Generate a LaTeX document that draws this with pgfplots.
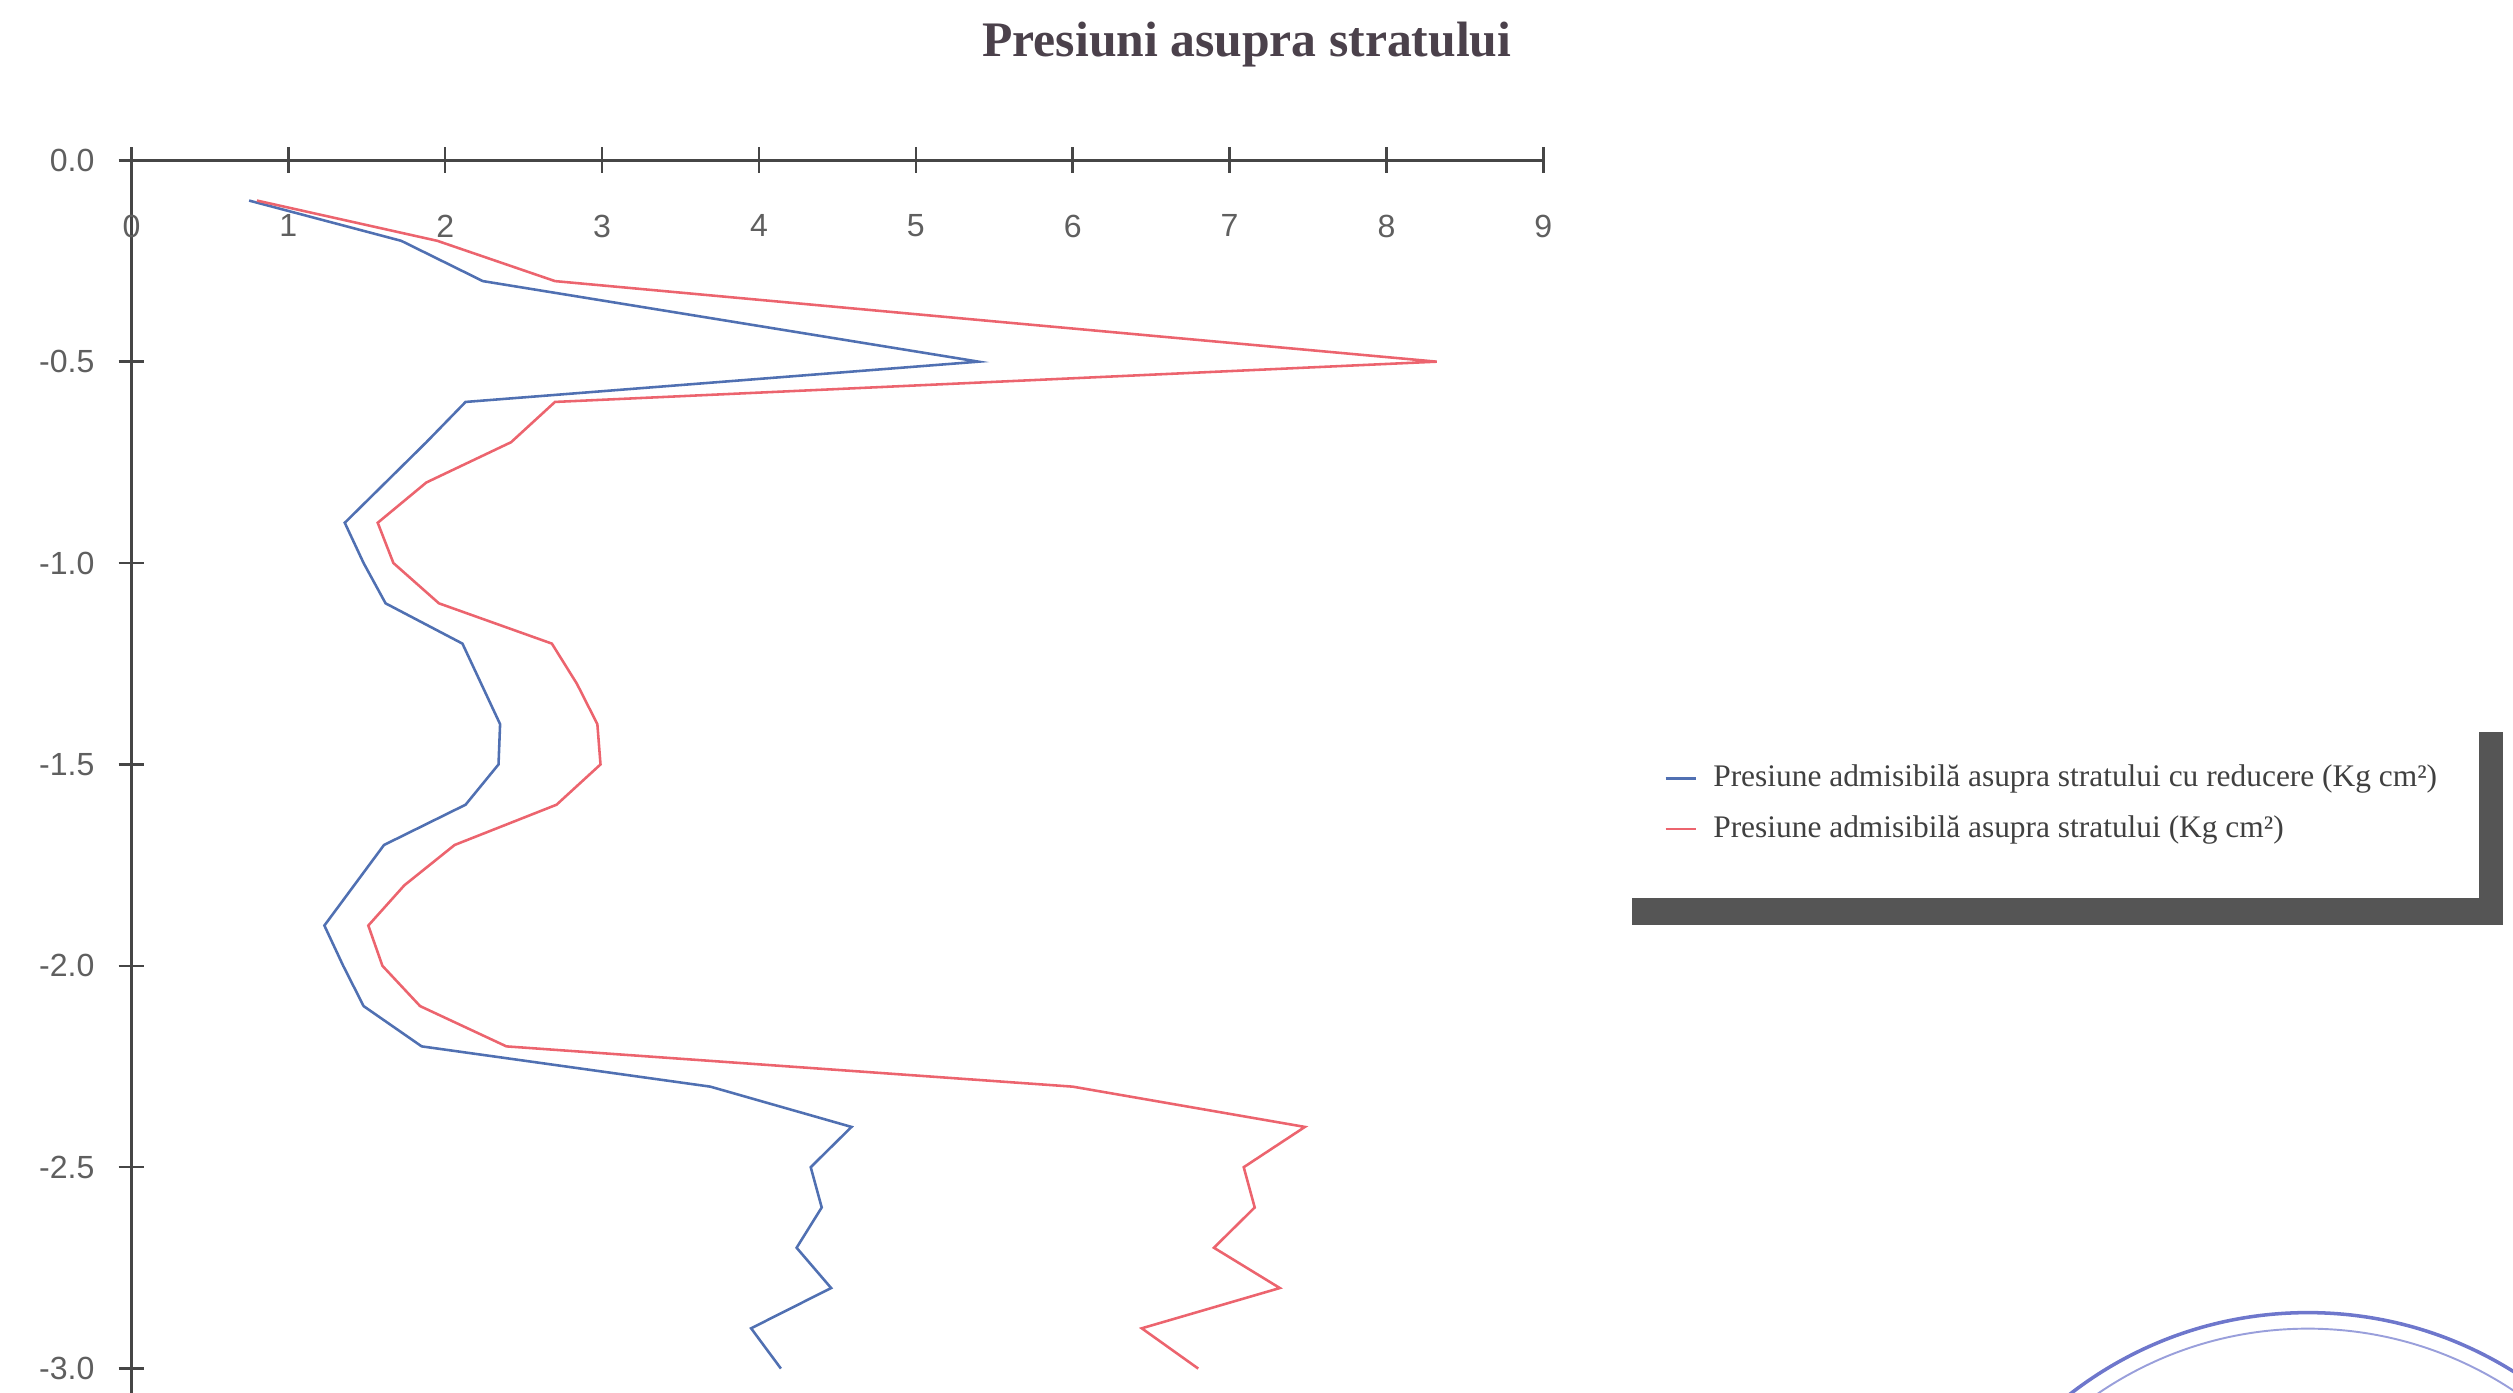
\documentclass[border=0pt]{standalone}
\usepackage{fontspec}
\setmainfont{Liberation Serif}
\setsansfont{Liberation Sans}
\usepackage{pgfplots}
\pgfplotsset{compat=1.18}
\definecolor{serblue}{RGB}{80,112,178}
\definecolor{serred}{RGB}{236,100,110}
\definecolor{axisgray}{RGB}{70,70,70}
\definecolor{labgray}{RGB}{95,95,95}
\definecolor{shadowgray}{RGB}{85,85,85}
\definecolor{titlegray}{RGB}{75,65,75}
\definecolor{stampblue}{RGB}{85,95,195}

\begin{document}
\begin{tikzpicture}
\useasboundingbox (-41pt,50pt) rectangle (743pt,-384.5pt);
% legend shadow
\fill[shadowgray] (468pt,-230pt) rectangle (740pt,-238.5pt);
\fill[shadowgray] (732.5pt,-178.5pt) rectangle (740pt,-238.5pt);
% stamp (partly visible)
\begin{scope}
\clip (-41pt,50pt) rectangle (743pt,-384.5pt);
\draw[stampblue!85, line width=1.1pt] (679pt,-480.5pt) circle (121pt);
\draw[stampblue!60, line width=0.6pt] (679pt,-480.5pt) circle (116pt);
\end{scope}
\begin{axis}[
  at={(0pt,0pt)}, anchor=north west,
  scale only axis, width=440.5pt, height=384.5pt,
  xmin=0, xmax=9, ymin=-3.06, ymax=0,
  axis x line*=top, axis y line*=left,
  axis line style={axisgray, line width=0.8pt},
  xtick={0,1,2,3,4,5,6,7,8,9},
  ytick={0,-0.5,-1,-1.5,-2,-2.5,-3},
  tick align=center, major tick length=8pt,
  tick style={axisgray, line width=0.8pt},
  /pgf/number format/assume math mode=true,
  ticklabel style={font=\sffamily\fontsize{10}{12}\selectfont, text=labgray},
  xticklabel style={anchor=north, yshift=-17.5pt},
  yticklabel style={xshift=-4pt, /pgf/number format/.cd, fixed, fixed zerofill, precision=1},
  clip=false,
  legend cell align=left,
  legend image code/.code={\draw[#1, line width=0.8pt] (0pt,0pt) -- (9.5pt,0pt); \path (12.5pt,0pt);},
  legend style={at={(rel axis cs:1.0511,0.5514)}, anchor=north west,
    draw=none, fill=none, inner xsep=15pt, inner ysep=14pt,
    font=\fontsize{9.8}{11}\selectfont, text=black!75, row sep=3.5pt},
]
\addplot[serblue, line width=0.8pt] coordinates {
(0.75,-0.1) (1.72,-0.2) (2.24,-0.3) (3.82,-0.4) (5.40,-0.5)
(2.13,-0.6) (1.88,-0.7) (1.62,-0.8) (1.36,-0.9) (1.48,-1.0)
(1.62,-1.1) (2.11,-1.2) (2.23,-1.3) (2.35,-1.4) (2.34,-1.5)
(2.13,-1.6) (1.61,-1.7) (1.42,-1.8) (1.23,-1.9) (1.35,-2.0)
(1.48,-2.1) (1.85,-2.2) (3.69,-2.3) (4.59,-2.4) (4.33,-2.5)
(4.40,-2.6) (4.24,-2.7) (4.46,-2.8) (3.95,-2.9) (4.14,-3.0)
};
\addlegendentry{Presiune admisibilă asupra stratului cu reducere (Kg cm²)}
\addplot[serred, line width=0.8pt] coordinates {
(0.80,-0.1) (1.95,-0.2) (2.70,-0.3) (5.50,-0.4) (8.32,-0.5)
(2.70,-0.6) (2.42,-0.7) (1.88,-0.8) (1.57,-0.9) (1.67,-1.0)
(1.96,-1.1) (2.68,-1.2) (2.84,-1.3) (2.97,-1.4) (2.99,-1.5)
(2.71,-1.6) (2.06,-1.7) (1.74,-1.8) (1.51,-1.9) (1.60,-2.0)
(1.84,-2.1) (2.39,-2.2) (6.00,-2.3) (7.48,-2.4) (7.09,-2.5)
(7.16,-2.6) (6.90,-2.7) (7.32,-2.8) (6.44,-2.9) (6.80,-3.0)
};
\addlegendentry{Presiune admisibilă asupra stratului (Kg cm²)}
\end{axis}
\node[font=\bfseries\fontsize{15.5}{18}\selectfont, text=titlegray] at (348pt,36pt) {Presiuni asupra stratului};
\end{tikzpicture}
\end{document}
